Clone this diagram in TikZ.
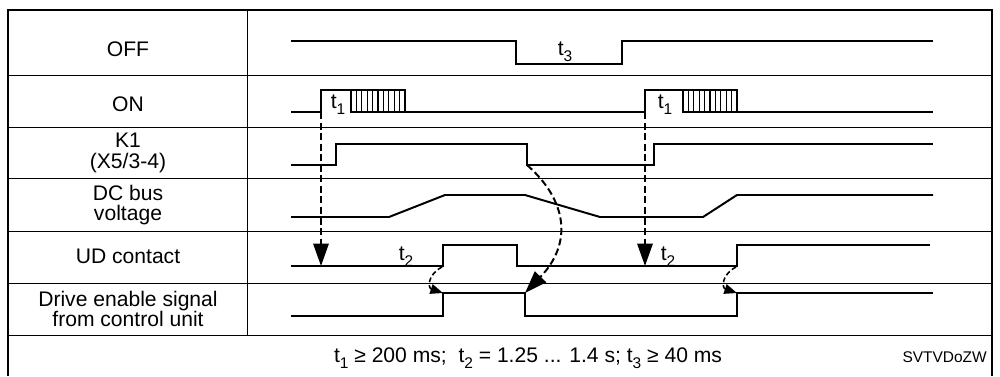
\documentclass[tikz,border=0pt]{standalone}
\usepackage{fontspec}
\setmainfont{Liberation Sans}
\usepackage{xcolor}
\usetikzlibrary{arrows.meta}
\tikzset{
  sigline/.style={line width=1.4pt, line join=miter},
  hatchline/.style={line width=0.8pt},
  rowline/.style={line width=0.7pt},
  lbl/.style={font=\fontsize{15}{14.5}\selectfont, align=center, inner sep=0pt},
  bigdash/.style={line width=1.4pt, dash pattern=on 5pt off 2.5pt,
    -{Triangle[length=16pt, width=11pt]}},
  smalldash/.style={line width=1.1pt, dash pattern=on 3.5pt off 2pt,
    -{Triangle[length=9pt, width=7pt]}}
}
\newcommand{\tsub}[1]{t\raisebox{-0.55ex}{\fontsize{11}{11}\selectfont #1}}

\begin{document}
\begin{tikzpicture}[x=0.025cm, y=-0.025cm]
  \useasboundingbox (0,0) rectangle (1000,376);
  % Frame and table lines
  \draw[line width=2pt] (8,376) -- (8,10) -- (992,10) -- (992,376);
  \foreach \y in {75,127,178,231,283,335}
    \draw[rowline] (8,\y) -- (992,\y);
  \draw[rowline] (247,10) -- (247,335);

  % --- Row labels ---
  \node[lbl] (offlbl) at (128,49)  {OFF};
  \node[lbl] (onlbl)  at (128,104) {ON};
  \node[lbl] (k1lbl)  at (128,153) {K1\\(X5/3-4)};
  \node[lbl] (dclbl)  at (128,205) {DC bus\\voltage};
  \node[lbl] (udlbl)  at (128,256) {UD contact};
  \node[lbl] (drvlbl) at (128,309) {Drive enable signal\\from control unit};

  % --- OFF ---
  \draw[sigline] (291,41) -- (516,41) -- (516,64) -- (622,64) -- (622,41) -- (933,41);
  \node[lbl] (tthree) at (565,52) {\tsub{3}};

  % --- ON ---
  \draw[sigline] (291,112) -- (321,112) -- (321,90) -- (405,90) -- (405,112);
  \draw[sigline] (351,90) -- (351,112) -- (645,112) -- (645,90) -- (737,90) -- (737,112);
  \draw[sigline] (683,90) -- (683,112) -- (933,112);
  \foreach \k in {1,...,9} {
    \draw[hatchline] (351+\k*5.4,90) -- (351+\k*5.4,112);
    \draw[hatchline] (683+\k*5.4,90) -- (683+\k*5.4,112);
  }
  \node[lbl] (tonea) at (338,105) {\tsub{1}};
  \node[lbl] (toneb) at (665,105) {\tsub{1}};

  % --- K1 ---
  \draw[sigline] (291,165) -- (336,165) -- (336,144) -- (527,144) -- (527,165)
    -- (654,165) -- (654,144) -- (933,144);

  % --- DC bus voltage ---
  \draw[sigline] (291,217) -- (389,217) -- (445,195) -- (525,195) -- (600,217)
    -- (703,217) -- (737,195) -- (933,195);

  % --- UD contact ---
  \draw[sigline] (291,266) -- (443,266) -- (443,245) -- (517,245) -- (517,266)
    -- (737,266) -- (737,245) -- (930,245);
  \node[lbl] (ttwoa) at (406,257) {\tsub{2}};
  \node[lbl] (ttwob) at (668,257) {\tsub{2}};

  % --- Drive enable ---
  \draw[sigline] (291,316) -- (443,316) -- (443,293) -- (525,293) -- (525,316)
    -- (737,316) -- (737,293) -- (933,293);

  % Edge points
  \coordinate (onup1) at (321,112);
  \coordinate (onup2) at (645,112);
  \coordinate (udlow1) at (321,266);
  \coordinate (udlow2) at (645,266);
  \coordinate (udup1) at (442,267);
  \coordinate (udup2) at (736,267);
  \coordinate (deup1) at (443,293);
  \coordinate (deup2) at (737,293);
  \coordinate (k1off) at (527,165);
  \coordinate (deoff) at (525,293);

  % Dependencies
  \draw[bigdash] (onup1) -- (udlow1);
  \draw[bigdash] (onup2) -- (udlow2);
  \draw[bigdash] (k1off) .. controls +(40,35) and +(48,-50) .. (deoff);
  \draw[smalldash] (udup1) .. controls +(-15,8) and +(-15,-5) .. (deup1);
  \draw[smalldash] (udup2) .. controls +(-15,8) and +(-15,-5) .. (deup2);

  % --- Footer ---
  \node[lbl, anchor=base] (times) at (528,362)
    {\tsub{1} ≥ 200 ms;~ \tsub{2} = 1.25 ... 1.4 s; \tsub{3} ≥ 40 ms};
  \node[font=\fontsize{11}{13}\selectfont, anchor=base east, inner sep=0pt] (code) at (987,362) {SVTVDoZW};
\end{tikzpicture}
\end{document}
